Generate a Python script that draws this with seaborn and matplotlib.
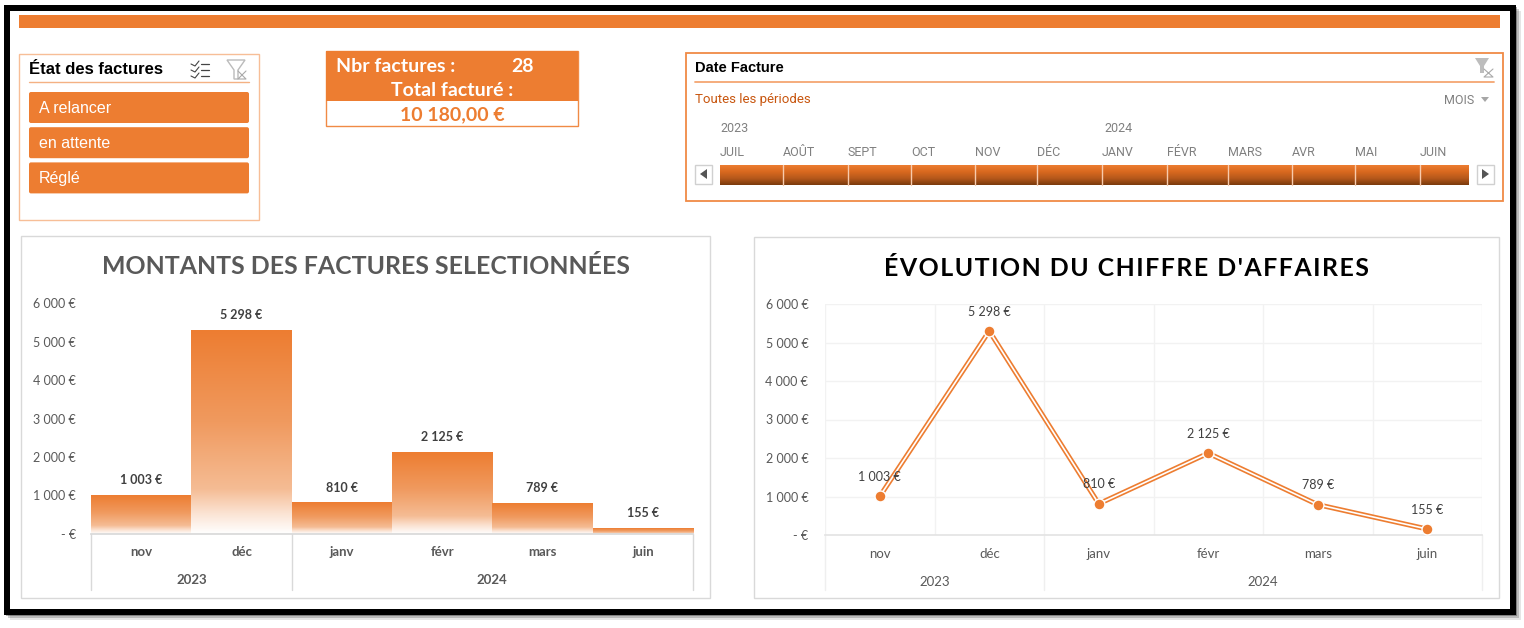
import numpy as np
import pandas as pd
import seaborn as sns
import matplotlib.pyplot as plt
from matplotlib.colors import LinearSegmentedColormap
from matplotlib.patches import Rectangle, Polygon, FancyBboxPatch

# Chart data
months = ["nov", "déc", "janv", "févr", "mars", "juin"]
years = ["2023", "2024"]
months_per_year = [2, 4]
amounts = [1003, 5298, 810, 2125, 789, 155]
amount_labels = ["1 003 €", "5 298 €", "810 €", "2 125 €", "789 €", "155 €"]
y_ticks = [0, 1000, 2000, 3000, 4000, 5000, 6000]
y_tick_labels = ["- €", "1 000 €", "2 000 €", "3 000 €", "4 000 €", "5 000 €", "6 000 €"]

# Slicers
states = ["A relancer", "en attente", "Réglé"]
timeline_months = ["JUIL", "AOÛT", "SEPT", "OCT", "NOV", "DÉC", "JANV", "FÉVR", "MARS", "AVR", "MAI", "JUIN"]
timeline_edges = [720, 783, 848, 911, 975, 1037, 1102, 1167, 1228, 1292, 1355, 1420, 1469]

ORANGE = "#ED7D31"
GREY = "#595959"
W, H = 1524, 628

sns.set_theme(style="white")
plt.rcParams["font.family"] = ["Lato", "DejaVu Sans"]

fig = plt.figure(figsize=(W / 100, H / 100), dpi=100, facecolor="white")

# Full-figure layer in pixel units for the frame and the slicers
bg = fig.add_axes([0, 0, 1, 1], zorder=0)
bg.set_xlim(0, W)
bg.set_ylim(H, 0)
bg.axis("off")


def box(x0, y0, x1, y1, **kw):
    bg.add_patch(Rectangle((x0, y0), x1 - x0, y1 - y0, **kw))


def gradient(ax, x0, x1, y_bottom, y_top, cmap, zorder=2):
    grad = np.linspace(0, 1, 256).reshape(-1, 1)
    ax.imshow(grad, extent=(x0, x1, y_bottom, y_top), origin="upper", aspect="auto",
              cmap=cmap, vmin=0, vmax=1, zorder=zorder, interpolation="bilinear")


def chart_axes(left, top, right, bottom):
    return fig.add_axes([left / W, 1 - bottom / H, (right - left) / W, (bottom - top) / H],
                        facecolor="none", zorder=2)


# Black frame with soft shadow
for off, alpha in [(5, 0.10), (3, 0.18), (1, 0.3)]:
    box(5 + off, 6 + off, 1516 + off, 615 + off, fc="black", alpha=alpha, lw=0)
box(4, 5, 1516, 615, fc="black", lw=0)
box(10, 11, 1510, 609, fc="white", lw=0)
box(19, 15, 1500, 28, fc=ORANGE, lw=0)

# State slicer
box(19, 54, 259, 220, fc="white", ec="#F7BE97", lw=1)
bg.text(29, 70, "État des factures", family="Liberation Sans", weight="bold", fontsize=12,
        color="black", va="center")
bg.plot([29, 249], [82, 82], color="#F4B183", lw=1)
for i, state in enumerate(states):
    y0 = 92 + i * 35.2
    bg.add_patch(FancyBboxPatch((30, y0 + 1), 218, 29, boxstyle="round,pad=1,rounding_size=2",
                                fc=ORANGE, ec="none"))
    bg.text(39, y0 + 16.5, state, family="Liberation Sans", fontsize=11.5, color="white", va="center")
# checklist icon
for y in [63, 69, 75]:
    bg.plot([191, 195, 199], [y + 1, y + 3, y - 2], color="#444444", lw=0.8)
    bg.plot([201, 209], [y + 1, y + 1], color="#444444", lw=0.9)
# clear filter icons
bg.add_patch(Polygon([(227, 60), (245, 60), (238, 70), (238, 79), (234, 79), (234, 70)],
                     fc="white", ec="#BBBBBB", lw=1))
bg.plot([238, 246, 238, 246], [71, 79, 79, 71], color="#AAAAAA", lw=0.8)

# KPI box
box(326, 51, 578, 126, fc="white", ec="#F08A45", lw=1)
box(326, 51, 578, 101, fc=ORANGE, lw=0)
bg.text(336, 66, "Nbr factures :", weight="bold", fontsize=14, color="white", va="center")
bg.text(522, 66, "28", weight="bold", fontsize=14, color="white", va="center", ha="center")
bg.text(452, 91, "Total facturé :", weight="bold", fontsize=14, color="white", va="center", ha="center")
bg.text(452, 115, "10 180,00 €", weight="bold", fontsize=14, color=ORANGE, va="center", ha="center")

# Date slicer
box(686, 53, 1503, 201, fc="white", ec="#F08A45", lw=1.3)
bg.text(695, 68, "Date Facture", family="Liberation Sans", weight="bold", fontsize=10.5,
        color="black", va="center")
bg.plot([695, 1494], [82, 82], color="#F4A672", lw=1.3)
bg.text(695, 100, "Toutes les périodes", family="Roboto", fontsize=9.5, color="#C8560F", va="center")
bg.text(1444, 100, "MOIS", family="Roboto", fontsize=9, color="#808080", va="center")
bg.add_patch(Polygon([(1481, 97), (1489, 97), (1485, 102)], fc="#A6A6A6", ec="none"))
bg.text(720, 128, years[0], family="Roboto", fontsize=9, color="#808080", va="center")
bg.text(1104, 128, years[1], family="Roboto", fontsize=9, color="#808080", va="center")
timeline_cmap = LinearSegmentedColormap.from_list("tl", [ORANGE, "#D9691F", "#B5581B", "#7A3A0C"])
gradient(bg, 720, 1469, 185, 165, timeline_cmap)
for name, edge in zip(timeline_months, timeline_edges):
    bg.text(edge, 152, name, family="Roboto", fontsize=9, color="#808080", va="center")
    if edge != 720:
        bg.plot([edge, edge], [165, 185], color="#F8CBAD", lw=1, zorder=3)
for x0, x1, tri in [(695, 712, [(707, 169), (707, 179), (700, 174)]),
                    (1477, 1494, [(1482, 169), (1482, 179), (1489, 174)])]:
    box(x0, 165, x1, 184, fc="white", ec="#D0D0D0", lw=1)
    bg.add_patch(Polygon(tri, fc="#555555", ec="none"))
bg.add_patch(Polygon([(1475, 58), (1489, 58), (1484, 66), (1484, 73), (1480, 73), (1480, 66)],
                     fc="#BDBDBD", ec="none"))
bg.plot([1484, 1493, 1484, 1493], [69, 77, 77, 69], color="#AAAAAA", lw=0.8)

# Chart panels
box(21, 236, 710, 598, fc="white", ec="#D9D9D9", lw=1)
box(754, 237, 1499, 598, fc="white", ec="#D9D9D9", lw=1)
bg.set_xlim(0, W)
bg.set_ylim(H, 0)

df = pd.DataFrame({"month": months, "amount": amounts, "label": amount_labels})
pos = np.arange(len(months))
edges = np.concatenate([[0], np.cumsum(months_per_year)]) - 0.5

# Bar chart
ax1 = chart_axes(91, 303, 693, 534)
sns.barplot(data=df, x="month", y="amount", width=1.0, color=ORANGE, ax=ax1)
bar_cmap = LinearSegmentedColormap.from_list(
    "bar", [(0, ORANGE), (0.45, "#F09A5F"), (0.78, "#F5BC94"), (0.9, "#FBE3D3"), (1, "#FFFFFF")])
for patch in list(ax1.patches):
    x, w, h = patch.get_x(), patch.get_width(), patch.get_height()
    gradient(ax1, x, x + w, 0, h, bar_cmap)
    patch.set_visible(False)
for p, v, lab in zip(pos, amounts, amount_labels):
    ax1.annotate(lab, (p, v), xytext=(0, 11), textcoords="offset points", ha="center", va="center",
                 fontsize=9, weight="bold", color="#404040")

# Line chart
ax2 = chart_axes(825, 304, 1482, 535)
sns.lineplot(data=df, x="month", y="amount", color=ORANGE, lw=3.6, sort=False, ax=ax2, zorder=3)
sns.lineplot(data=df, x="month", y="amount", color="white", lw=1.2, sort=False, ax=ax2, zorder=4)
sns.scatterplot(data=df, x="month", y="amount", color=ORANGE, s=62, edgecolor="white", linewidth=1,
                ax=ax2, zorder=5)
for p, v, lab in zip(pos, amounts, amount_labels):
    ax2.annotate(lab, (p, v), xytext=(0, 14), textcoords="offset points", ha="center", va="center",
                 fontsize=9, color="#404040", zorder=6)

# Shared axis styling, with the two-level month and year categories
settings = [
    (ax1, "#D9D9D9", "#D9D9D9", "bold", GREY, 18.5 / 231, 46.5 / 231, 56 / 231, 11),
    (ax2, "#E4E4E4", "#EFEFEF", "normal", GREY, 19 / 231, 46.5 / 231, 55 / 231, 12),
]
for ax, base_col, sep_col, weight, col, month_off, year_off, sep_len, pad in settings:
    ax.set_xlim(-0.5, len(months) - 0.5)
    ax.set_ylim(0, 6000)
    ax.set_xlabel("")
    ax.set_ylabel("")
    ax.set_yticks(y_ticks)
    ax.set_yticklabels(y_tick_labels, fontsize=9, color=col)
    ax.set_xticks([])
    ax.tick_params(axis="y", length=0, pad=pad)
    for side in ["top", "right", "left"]:
        ax.spines[side].set_visible(False)
    ax.spines["bottom"].set_color(base_col)
    trans = ax.get_xaxis_transform()
    for p, m in zip(pos, months):
        ax.text(p, -month_off, m, transform=trans, ha="center", va="center", fontsize=9.5,
                weight=weight, color=col)
    for i, yr in enumerate(years):
        ax.text((edges[i] + edges[i + 1]) / 2, -year_off, yr, transform=trans, ha="center", va="center",
                fontsize=9.5, weight=weight, color=col)
    for e in edges:
        ax.plot([e, e], [0, -sep_len], transform=trans, color=sep_col, lw=1, clip_on=False, zorder=1)

# Faint grid on the line chart only
ax2.grid(True, axis="y", color="#F2F2F2", lw=1)
ax2.set_axisbelow(True)
for e in np.arange(len(months) + 1) - 0.5:
    ax2.axvline(e, color="#F2F2F2", lw=1, zorder=0)

# Titles
bg.text(365.5, 266, "MONTANTS DES FACTURES SELECTIONNÉES", fontsize=17.9, weight="bold", color=GREY,
        ha="center", va="center")
spaced_title = "\u200a".join("ÉVOLUTION DU CHIFFRE D'AFFAIRES")
bg.text(1126, 268, spaced_title, fontsize=17.9, weight="bold", color="black",
        ha="center", va="center")
bg.set_xlim(0, W)
bg.set_ylim(H, 0)

fig.savefig("out.png", dpi=100)
